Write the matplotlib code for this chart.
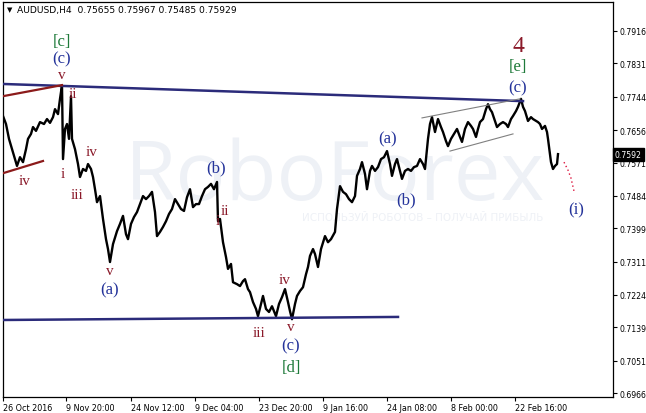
import matplotlib
matplotlib.use("Agg")
import matplotlib.pyplot as plt

# =========================
# DADOS
# =========================
symbol = "AUDUSD,H4"
ohlc_last = [0.75655, 0.75967, 0.75485, 0.75929]

# indice da barra H4 (0 = 26 Oct 2016 00:00)
bars = [0, 3, 6, 9, 12, 14, 17, 20, 23, 25, 28, 30, 33, 37, 41, 44, 47, 50, 52, 55,
        57, 59, 60, 62, 64, 66, 68, 69, 72, 75, 77, 80, 83, 85, 88, 90, 92, 94, 97, 100,
        103, 105, 107, 110, 114, 117, 120, 123, 125, 128, 131, 134, 137, 140, 143, 146, 149, 152, 154, 157,
        160, 163, 166, 169, 172, 175, 178, 181, 184, 187, 190, 193, 196, 199, 202, 205, 208, 211, 214, 215,
        217, 220, 223, 225, 228, 230, 234, 237, 240, 242, 245, 247, 250, 253, 255, 258, 260, 263, 266, 269,
        271, 273, 276, 279, 282, 285, 287, 289, 292, 294, 297, 300, 303, 305, 307, 310, 312, 315, 318, 322,
        325, 328, 332, 334, 337, 340, 343, 346, 349, 352, 354, 357, 359, 362, 364, 367, 369, 372, 375, 378,
        381, 384, 387, 389, 392, 394, 397, 399, 402, 405, 408, 411, 414, 417, 420, 422, 425, 427, 429, 432,
        435, 438, 440, 443, 445, 448, 451, 454, 457, 459, 462, 465, 468, 470, 473, 475, 477, 480, 483, 485,
        487, 489, 492, 494, 497, 500, 503, 505, 508, 510, 513, 515, 518, 520, 522, 525, 528, 530, 533, 535,
        537, 539, 542, 544, 545, 547, 548, 550, 552, 554, 555]

close = [0.7693, 0.7672, 0.7633, 0.7606, 0.7580, 0.7562, 0.7585, 0.7572, 0.7606, 0.7633,
         0.7646, 0.7664, 0.7654, 0.7677, 0.7672, 0.7685, 0.7675, 0.7690, 0.7711, 0.7698,
         0.7738, 0.7774, 0.7580, 0.7659, 0.7672, 0.7633, 0.7745, 0.7633, 0.7606, 0.7567,
         0.7533, 0.7554, 0.7549, 0.7567, 0.7554, 0.7533, 0.7501, 0.7467, 0.7483, 0.7423,
         0.7370, 0.7344, 0.7310, 0.7357, 0.7391, 0.7410, 0.7431, 0.7383, 0.7370, 0.7410,
         0.7428, 0.7441, 0.7462, 0.7483, 0.7475, 0.7483, 0.7494, 0.7441, 0.7378, 0.7389,
         0.7402, 0.7417, 0.7436, 0.7449, 0.7475, 0.7462, 0.7449, 0.7444, 0.7480, 0.7501,
         0.7454, 0.7462, 0.7462, 0.7483, 0.7501, 0.7507, 0.7515, 0.7501, 0.7520, 0.7417,
         0.7423, 0.7362, 0.7323, 0.7292, 0.7305, 0.7257, 0.7252, 0.7247, 0.7260, 0.7265,
         0.7239, 0.7231, 0.7205, 0.7187, 0.7168, 0.7200, 0.7221, 0.7187, 0.7179, 0.7194,
         0.7181, 0.7168, 0.7200, 0.7218, 0.7239, 0.7205, 0.7181, 0.7160, 0.7200, 0.7221,
         0.7234, 0.7244, 0.7278, 0.7297, 0.7326, 0.7344, 0.7331, 0.7297, 0.7344, 0.7378,
         0.7362, 0.7370, 0.7389, 0.7449, 0.7509, 0.7494, 0.7488, 0.7475, 0.7467, 0.7483,
         0.7536, 0.7554, 0.7572, 0.7541, 0.7501, 0.7549, 0.7562, 0.7549, 0.7559, 0.7580,
         0.7585, 0.7601, 0.7567, 0.7536, 0.7567, 0.7580, 0.7549, 0.7528, 0.7549, 0.7554,
         0.7549, 0.7559, 0.7562, 0.7580, 0.7567, 0.7554, 0.7633, 0.7672, 0.7690, 0.7651,
         0.7685, 0.7664, 0.7651, 0.7627, 0.7614, 0.7633, 0.7646, 0.7659, 0.7638, 0.7625,
         0.7659, 0.7677, 0.7667, 0.7659, 0.7638, 0.7659, 0.7677, 0.7685, 0.7711, 0.7724,
         0.7711, 0.7703, 0.7680, 0.7664, 0.7672, 0.7677, 0.7672, 0.7664, 0.7685, 0.7693,
         0.7706, 0.7717, 0.7738, 0.7717, 0.7706, 0.7680, 0.7690, 0.7685, 0.7680, 0.7677,
         0.7672, 0.7659, 0.7667, 0.7651, 0.7633, 0.7593, 0.7572, 0.7554, 0.7562, 0.7567,
         0.7593]

# eixo do tempo
date_ticks = [0, 63, 128, 192, 256, 320, 384, 448, 512]
date_labels = ["26 Oct 2016", "9 Nov 20:00", "24 Nov 12:00", "9 Dec 04:00", "23 Dec 20:00",
               "9 Jan 16:00", "24 Jan 08:00", "8 Feb 00:00", "22 Feb 16:00"]
price_ticks = [0.7916, 0.7831, 0.7744, 0.7656, 0.7571, 0.7484, 0.7399,
               0.7311, 0.7224, 0.7139, 0.7051, 0.6966]

# linhas de tendência (barra, preço)
upper_line = ([0, 520], [0.7777, 0.7732])
lower_line = ([0, 395], [0.7158, 0.7166])
red_up = ([0, 59], [0.7745, 0.7774])
red_low = ([0, 40], [0.7543, 0.7575])
chan_up = ([419, 517], [0.7688, 0.7738])
chan_low = ([447, 510], [0.7601, 0.7646])
forecast = ([561, 565, 568, 571], [0.7572, 0.7551, 0.7530, 0.7496])

# marcações de Elliott: texto, barra, preço, tipo
waves = [
    ("[c]", 59, 0.7890, "g"), ("(c)", 59, 0.7843, "b"), ("v", 59, 0.7801, "r"),
    ("ii", 70, 0.7751, "r"), ("iv", 22, 0.7525, "r"), ("i", 60, 0.7541, "r"),
    ("iii", 74, 0.7486, "r"), ("iv", 89, 0.7599, "r"), ("v", 107, 0.7289, "r"),
    ("(a)", 107, 0.7239, "b"), ("(b)", 213, 0.7557, "b"), ("ii", 222, 0.7446, "r"),
    ("i", 215, 0.7420, "r"), ("iii", 256, 0.7126, "r"), ("iv", 282, 0.7265, "r"),
    ("v", 288, 0.7142, "r"), ("(c)", 288, 0.7092, "b"), ("[d]", 288, 0.7034, "g"),
    ("(a)", 385, 0.7635, "b"), ("(b)", 403, 0.7475, "b"), ("4", 515, 0.7879, "4"),
    ("[e]", 515, 0.7824, "g"), ("(c)", 515, 0.7769, "b"), ("(i)", 573, 0.7449, "b"),
]

# =========================
# FIGURA
# =========================
W, H = 646, 414
fig = plt.figure(figsize=(W / 100, H / 100), dpi=100)
fig.patch.set_facecolor("white")
ax = fig.add_axes([3 / W, 1 - 398 / H, 610 / W, 395 / H])
ax.set_xlim(0, 610)
ax.set_ylim(0.6956, 0.7992)

# marca d'água
ax.text(0.545, 0.555, "RoboForex", transform=ax.transAxes, fontsize=60,
        family="Open Sans", color="#eef1f6", ha="center", va="center", zorder=0)
ax.text(0.688, 0.455, "ИСПОЛЬЗУЙ РОБОТОВ – ПОЛУЧАЙ ПРИБЫЛЬ", transform=ax.transAxes,
        fontsize=7.5, family="DejaVu Sans", color="#eef1f6", ha="center", va="center", zorder=0)

# preço
ax.plot(bars, close, color="black", lw=1.7, zorder=3)

# linhas
navy = "#2b2b7a"
ax.plot(*upper_line, color=navy, lw=1.8, zorder=4)
ax.plot(*lower_line, color=navy, lw=1.8, zorder=4)
ax.plot(*red_up, color="#8b1a1a", lw=1.6, zorder=4)
ax.plot(*red_low, color="#8b1a1a", lw=1.6, zorder=4)
ax.plot(*chan_up, color="#808080", lw=0.8, zorder=4)
ax.plot(*chan_low, color="#808080", lw=0.8, zorder=4)
ax.plot(*forecast, color="#dc143c", lw=1.0, ls=(0, (1, 2)), zorder=4)

colors = {"r": "#8b1a2a", "b": "#24339a", "g": "#1f7a3a", "4": "#8b1a2a"}
sizes = {"r": 11, "b": 12, "g": 12, "4": 17}
for txt, b, p, kind in waves:
    ax.text(b, p, txt, color=colors[kind], fontsize=sizes[kind], family="Liberation Serif",
            ha="center", va="center", zorder=5)

# eixos estilo MT4
for side in ["left", "right", "top", "bottom"]:
    ax.spines[side].set_linewidth(0.9)
ax.yaxis.tick_right()
ax.set_yticks(price_ticks)
ax.set_yticklabels([f"{v:.4f}" for v in price_ticks])
ax.set_xticks(date_ticks)
ax.set_xticklabels(date_labels, ha="left")
ax.tick_params(axis="y", direction="out", length=3, width=0.8, labelsize=5.6, pad=2)
ax.tick_params(axis="x", direction="out", length=3, width=0.8, labelsize=5.8, pad=1)

# preço atual no eixo (MT4 corta, não arredonda)
ax.text(1.003, ohlc_last[3], f"{ohlc_last[3]:.5f}"[:6], transform=ax.get_yaxis_transform(),
        fontsize=5.6, color="white", va="center", ha="left",
        bbox=dict(boxstyle="square,pad=0.25", fc="black", ec="black"), zorder=6, clip_on=False)

# cabeçalho
fig.text(7 / W, 1 - 10 / H, "▼", fontsize=5, color="black", va="center", ha="left")
fig.text(17 / W, 1 - 10 / H, symbol + "  " + " ".join(f"{v:.5f}" for v in ohlc_last),
         fontsize=6.6, color="black", va="center", ha="left")

fig.savefig("out.png", dpi=100)
